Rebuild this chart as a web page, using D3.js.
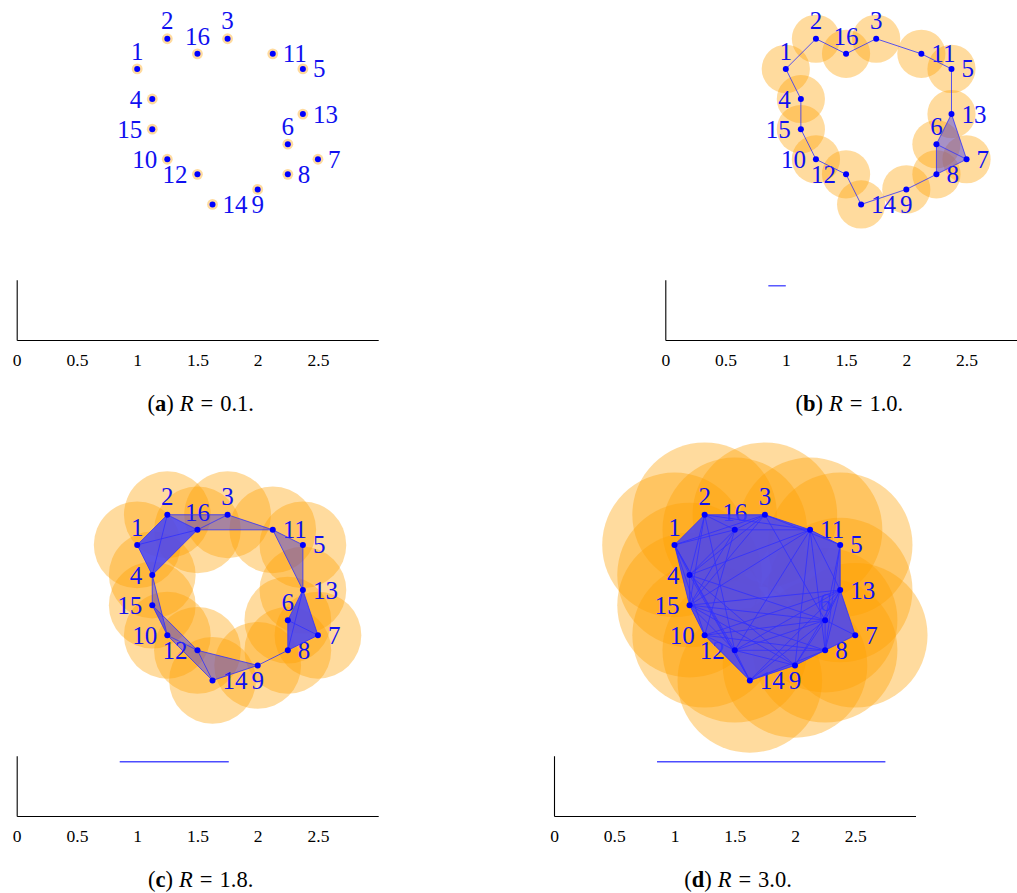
<!DOCTYPE html>
<html>
<head>
<meta charset="utf-8">
<script src="https://d3js.org/d3.v7.min.js"></script>
<style>
  html, body { margin: 0; padding: 0; background: #fff; }
  svg { display: block; }
</style>
</head>
<body>
<svg id="chart" width="1017" height="893"></svg>
<script>
// Sample points: id, x, y (axis units)
const pointIds = [1, 2, 16, 3, 11, 5, 4, 15, 13, 6, 10, 7, 12, 8, 9, 14];
const pointX   = [1.0, 1.25, 1.5, 1.75, 2.125, 2.375, 1.125, 1.125, 2.375, 2.25, 1.25, 2.5, 1.5, 2.25, 2.0, 1.625];
const pointY   = [2.25, 2.5, 2.375, 2.5, 2.375, 2.25, 2.0, 1.75, 1.875, 1.625, 1.5, 1.5, 1.375, 1.375, 1.25, 1.125];
const labelSide = ["above", "above", "above", "above", "right", "right", "left", "left",
                   "right", "above", "left", "right", "left", "right", "below", "right"];

// Filtration parameter per panel and ball radius drawn around each point
const panelLetters = ["a", "b", "c", "d"];
const radiusR      = ["0.1", "1.0", "1.8", "3.0"];
const ballRadius   = [0.045, 0.2, 0.36, 0.6];

// Persistence bar (H1) shown under each complex
const barBirth = [null, 0.855, 0.855, 0.855];
const barDeath = [null, 1.0, 1.76, 2.75];
const barLevel = 0.45;

// Axis ticks
const tickValues = [0, 0.5, 1, 1.5, 2, 2.5];
const tickLabels = ["0", "0.5", "1", "1.5", "2", "2.5"];

// Simplicial complexes
const edgesA = [];
const edgesB = [[1,2],[2,16],[16,3],[3,11],[11,5],[5,13],[13,6],[13,7],[6,7],[6,8],[7,8],
                [8,9],[9,14],[14,12],[12,10],[10,15],[15,4],[4,1]];
const edgesC = [[1,2],[1,16],[1,4],[2,16],[2,4],[16,4],[2,3],[16,3],[16,11],[3,11],[11,5],
                [11,13],[5,13],[13,6],[13,7],[13,8],[6,7],[6,8],[7,8],[8,9],[9,14],[9,12],
                [12,14],[10,14],[10,12],[15,12],[15,10],[4,15],[4,10]];
const edgesD = [[1,2],[2,3],[3,11],[11,5],[5,13],[13,7],[7,8],[8,9],[9,14],[14,12],[12,10],
                [10,15],[15,4],[4,1],[1,15],
                [2,16],[16,3],[1,16],[2,4],[16,4],[6,13],[6,7],[6,8],[13,8],[11,13],[3,5],
                [2,11],[1,3],[12,15],[10,14],[12,9],[9,6],[16,11],
                [2,15],[2,12],[16,15],[16,10],[3,4],[3,15],[3,6],[11,4],[11,15],[11,8],
                [11,9],[11,12],[13,15],[13,10],[13,12],[13,14],[13,9],[1,12],[1,14],[1,10],
                [4,14],[4,9],[15,8],[15,6],[15,9],[10,6],[10,8],[12,6],[12,8],[14,6],
                [14,8],[5,8],[5,6],[4,6]];
const trianglesA = [];
const trianglesB = [[13,6,7],[6,7,8]];
const trianglesC = [[2,16,3],[16,3,11],[11,5,13],[4,15,10],[15,10,12],[10,12,14],[12,14,9]];
const trianglesD = [];
const cellsA = [];
const cellsB = [];
const cellsC = [[1,2,16,4],[13,6,7,8]];
const cellsD = [[1,2,16,3,4,15,10,12,14],[3,11,5,13,6,16,4,15,12],[13,7,8,9,14,12,6,10,15]];

const edgeSets = [edgesA, edgesB, edgesC, edgesD];
const triangleSets = [trianglesA, trianglesB, trianglesC, trianglesD];
const cellSets = [cellsA, cellsB, cellsC, cellsD];

// ---- drawing ----
const svg = d3.select("#chart");
const serif = "'Liberation Serif', 'Times New Roman', serif";
const unit = 120.5;
const x = d3.scaleLinear().domain([0, 3]).range([0, 3 * unit]);
const y = d3.scaleLinear().domain([0, 3]).range([0, -3 * unit]);

const points = pointIds.map((id, i) => ({id, x: pointX[i], y: pointY[i], side: labelSide[i]}));
const byId = new Map(points.map(p => [p.id, p]));
const pt = id => [x(byId.get(id).x), y(byId.get(id).y)];

const origins = [[16.7, 340], [665.3, 340], [16.7, 816], [554, 816]];

const labelOffset = {
  right: {dx: 10, dy: 8.5, anchor: "start"},
  left:  {dx: -10, dy: 8.5, anchor: "end"},
  above: {dx: 0, dy: -9.3, anchor: "middle"},
  below: {dx: 0, dy: 24, anchor: "middle"}
};

panelLetters.forEach((letter, k) => {
  const g = svg.append("g").attr("transform", `translate(${origins[k][0]},${origins[k][1]})`);

  // balls
  g.append("g").selectAll("circle").data(points).join("circle")
    .attr("cx", d => x(d.x)).attr("cy", d => y(d.y))
    .attr("r", x(ballRadius[k]) - x(0))
    .attr("fill", "#ffa000").attr("fill-opacity", 0.38);

  // vertex labels
  g.append("g").selectAll("text").data(points).join("text")
    .attr("x", d => x(d.x) + labelOffset[d.side].dx)
    .attr("y", d => y(d.y) + labelOffset[d.side].dy)
    .attr("text-anchor", d => labelOffset[d.side].anchor)
    .attr("font-family", serif).attr("font-size", 25)
    .attr("fill", "#1010f0")
    .text(d => d.id);

  // 2-simplices
  g.append("g").selectAll("path").data(triangleSets[k]).join("path")
    .attr("d", t => "M" + t.map(pt).join("L") + "Z")
    .attr("fill", "#2222ff").attr("fill-opacity", 0.4).attr("stroke", "none");

  // higher simplices, filled as one transparency group
  g.append("g").attr("opacity", 0.84)
    .selectAll("path").data(cellSets[k]).join("path")
    .attr("d", c => "M" + d3.polygonHull(c.map(pt)).join("L") + "Z")
    .attr("fill", "#4040ff").attr("stroke", "none");

  // edges
  g.append("g").selectAll("line").data(edgeSets[k]).join("line")
    .attr("x1", e => pt(e[0])[0]).attr("y1", e => pt(e[0])[1])
    .attr("x2", e => pt(e[1])[0]).attr("y2", e => pt(e[1])[1])
    .attr("stroke", "#3030ff").attr("stroke-opacity", 0.8).attr("stroke-width", 1);

  // vertices
  g.append("g").selectAll("circle").data(points).join("circle")
    .attr("cx", d => x(d.x)).attr("cy", d => y(d.y)).attr("r", 3)
    .attr("fill", "#0000ff");

  // barcode axes
  const xAxis = d3.axisBottom(x).tickValues(tickValues).tickSize(0).tickSizeOuter(0)
    .tickFormat((d, i) => tickLabels[i]);
  const gx = g.append("g").call(xAxis);
  gx.select(".domain").attr("stroke", "#000").attr("stroke-width", 1.1);
  gx.selectAll("text").attr("font-family", serif).attr("font-size", 17.5)
    .attr("fill", "#000").attr("y", 25.5).attr("dy", null);

  const yAxis = d3.axisLeft(y.copy().domain([0, 0.5]).range([0, -0.5 * unit])).tickValues([]).tickSizeOuter(0);
  const gy = g.append("g").call(yAxis);
  gy.select(".domain").attr("stroke", "#000").attr("stroke-width", 1.1);

  if (barBirth[k] !== null) {
    g.append("line")
      .attr("x1", x(barBirth[k])).attr("x2", x(barDeath[k]))
      .attr("y1", y(barLevel)).attr("y2", y(barLevel))
      .attr("stroke", "#1f1fff").attr("stroke-opacity", 0.8).attr("stroke-width", 1.4);
  }

  // caption
  const cap = g.append("text")
    .attr("x", 184).attr("y", 70.5).attr("text-anchor", "middle")
    .attr("font-family", serif).attr("font-size", 22.5).attr("fill", "#000");
  cap.append("tspan").text("(");
  cap.append("tspan").attr("font-weight", "bold").text(letter);
  cap.append("tspan").text(")");
  cap.append("tspan").attr("dx", 6).attr("font-style", "italic").text("R");
  cap.append("tspan").attr("dx", 7).text("=");
  cap.append("tspan").attr("dx", 7).text(radiusR[k] + ".");
});
</script>
</body>
</html>
